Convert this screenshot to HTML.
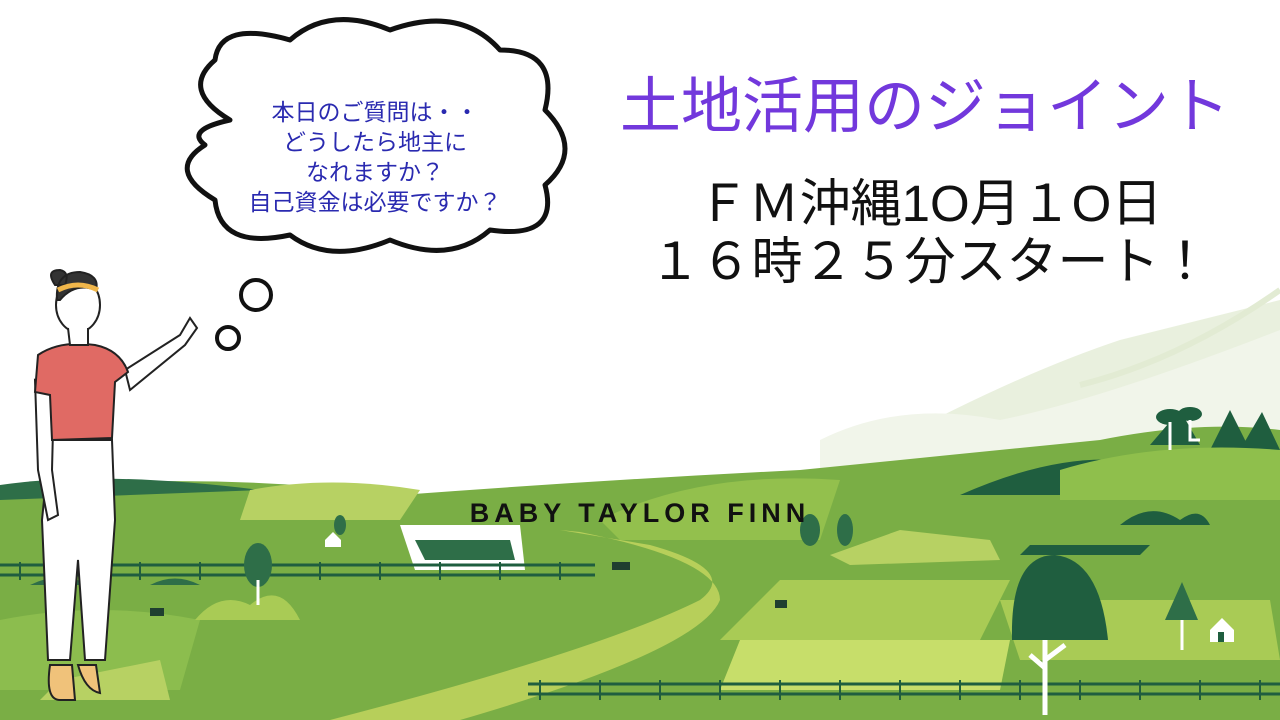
<!DOCTYPE html>
<html><head><meta charset="utf-8"><style>
body{margin:0;width:1280px;height:720px;overflow:hidden;background:#fff;position:relative;font-family:"Liberation Sans","Noto Sans CJK JP",sans-serif}
svg{position:absolute;left:0;top:0}
.t{position:absolute;white-space:nowrap}
</style></head><body>
<svg width="1280" height="720" viewBox="0 0 1280 720">
<path d="M840 470 Q1000 380 1120 340 Q1200 320 1280 300 L1280 720 L840 720Z" fill="#e9f0de"/>
<path d="M820 440 Q900 400 1000 420 Q1100 400 1280 330 L1280 720 L820 720Z" fill="#f1f5ea"/>
<path d="M1080 385 Q1180 360 1280 290" fill="none" stroke="#e2ebd3" stroke-width="6"/>
<path d="M0 490 Q200 470 400 495 Q600 480 800 470 Q950 455 1100 440 Q1200 420 1280 430 L1280 720 L0 720Z" fill="#7aae45"/>
<path d="M0 485 Q100 470 260 490 L0 500Z" fill="#2e6e48"/>
<path d="M960 495 Q1050 455 1120 460 L1090 495Z" fill="#1f5e3f"/>
<path d="M1150 445 L1180 410 L1200 445Z M1210 450 L1230 410 L1250 450Z M1240 450 L1262 412 L1280 450Z" fill="#1f5e3f"/>
<path d="M1060 470 Q1160 440 1280 450 L1280 500 L1060 500Z" fill="#8fbf4c"/>
<path d="M250 490 Q330 475 420 490 L400 520 L240 520Z" fill="#b7d163"/>
<path d="M600 520 Q700 470 840 480 L820 540 L620 540Z" fill="#93c04d"/>
<path d="M330 720 Q600 650 700 600 Q740 570 650 545 L560 530 L580 532 Q720 560 720 600 Q700 650 460 720Z" fill="#b7cf5a"/>
<path d="M720 640 L980 640 L1010 580 L780 580Z" fill="#a9cb55"/>
<path d="M720 690 L1000 690 L1010 640 L740 640Z" fill="#c7de6a"/>
<path d="M1000 600 L1270 600 L1280 660 L1020 660Z" fill="#a9cb55"/>
<path d="M0 620 Q100 600 200 620 L180 690 L0 690Z" fill="#8cbd4e"/>
<path d="M60 680 L160 660 L170 700 L40 700Z" fill="#b7d163"/>
<path d="M830 555 L900 530 L990 540 L1000 560 L850 565Z" fill="#b7d163"/>
<path d="M400 525 L520 525 L525 570 L415 570Z" fill="#fff"/>
<path d="M415 540 L510 540 L515 560 L425 560Z" fill="#2e6e48"/>
<path d="M1030 545 L1150 545 L1140 555 L1020 555Z" fill="#1f5e3f"/>
<path d="M1120 525 Q1150 500 1180 520 Q1200 505 1210 525Z" fill="#1f5e3f"/>
<path d="M30 585 Q60 570 90 585Z M150 585 Q175 572 200 585Z" fill="#2e6e48"/>
<path d="M195 620 Q220 590 250 605 Q280 580 300 620Z" fill="#a9cb55"/>
<g stroke="#1f5e3f" stroke-width="3" fill="none">
<path d="M0 565 H595 M0 575 H595"/>
<path d="M528 684 H1280 M528 694 H1280"/>
</g>
<g stroke="#1f5e3f" stroke-width="2">
<path d="M20 562V580 M80 562V580 M140 562V580 M200 562V580 M260 562V580 M320 562V580 M380 562V580 M440 562V580 M500 562V580 M560 562V580"/>
<path d="M540 680V700 M600 680V700 M660 680V700 M720 680V700 M780 680V700 M840 680V700 M900 680V700 M960 680V700 M1020 680V700 M1080 680V700 M1140 680V700 M1200 680V700 M1260 680V700"/>
</g>
<ellipse cx="258" cy="565" rx="14" ry="22" fill="#2e6e48"/><path d="M258 580V605" stroke="#fff" stroke-width="3"/>
<path d="M1012 640 Q1010 555 1055 555 Q1100 560 1108 640Z" fill="#1f5e3f"/>
<path d="M1045 640V715 M1045 668 L1030 655 M1045 660 L1065 645" stroke="#fff" stroke-width="5" fill="none"/>
<path d="M1165 620 L1182 582 L1198 620Z" fill="#2e6e48"/><path d="M1182 620V650" stroke="#fff" stroke-width="3"/>
<ellipse cx="1170" cy="417" rx="14" ry="8" fill="#1f5e3f"/><ellipse cx="1190" cy="414" rx="12" ry="7" fill="#1f5e3f"/>
<path d="M1170 422V450 M1190 420V440 H1200" stroke="#fff" stroke-width="3" fill="none"/>
<ellipse cx="810" cy="530" rx="10" ry="16" fill="#2e6e48"/><ellipse cx="845" cy="530" rx="8" ry="16" fill="#2e6e48"/>
<ellipse cx="340" cy="525" rx="6" ry="10" fill="#2e6e48"/>
<path d="M1210 630 L1222 618 L1234 630 V642 H1210Z" fill="#fff"/><rect x="1218" y="632" width="6" height="10" fill="#1f5e3f"/>
<path d="M325 540 L333 532 L341 540 V547 H325Z" fill="#fff"/>
<rect x="612" y="562" width="18" height="8" fill="#1f3f30"/><rect x="150" y="608" width="14" height="8" fill="#1f3f30"/><rect x="775" y="600" width="12" height="8" fill="#1f3f30"/>
<path d="M230 120 Q180 90 215 60 Q220 20 290 40 Q330 5 390 30 Q460 5 500 50 Q560 50 545 110 Q585 150 545 185 Q560 240 490 230 Q450 265 390 240 Q330 265 290 235 Q220 250 215 200 Q165 170 205 145 Q185 130 230 120Z" fill="#fff" stroke="#111" stroke-width="5" stroke-linejoin="round"/>
<circle cx="256" cy="295" r="15" fill="#fff" stroke="#111" stroke-width="4"/>
<circle cx="228" cy="338" r="11" fill="#fff" stroke="#111" stroke-width="4"/>
<g stroke="#222" stroke-width="2">
<path d="M50 440 L42 520 L48 660 L70 660 L78 560 L85 660 L105 660 L115 520 L112 440Z" fill="#fff"/>
<path d="M125 370 L180 335 L190 318 L197 328 L185 345 L130 390Z" fill="#fff"/>
<path d="M35 380 L38 470 L48 520 L58 515 L52 470 L54 390Z" fill="#fff"/>
<path d="M38 355 Q60 340 95 345 Q120 350 128 372 L115 382 L112 438 L52 440 L50 395 L35 392Z" fill="#e06a64"/>
<ellipse cx="78" cy="305" rx="22" ry="27" fill="#fff"/>
<path d="M68 328 L70 345 H88 L88 328" fill="#fff"/>
<path d="M57 300 Q55 272 80 272 Q100 275 96 290 Q75 282 60 300Z M55 285 Q45 270 60 270 Q70 272 65 285Z" fill="#333"/>
<path d="M50 665 Q45 700 60 700 H75 L72 665Z M78 665 Q85 690 100 693 L96 665Z" fill="#f0c27a"/>
</g>
<path d="M58 290 Q78 280 98 290" stroke="#f0b64a" stroke-width="5" fill="none"/>
</svg>
<div class="t" style="left:180px;width:390px;top:97px;text-align:center;font-size:23px;line-height:30px;color:#2a2ab0">本日のご質問は・・<br>どうしたら地主に<br>なれますか？<br>自己資金は必要ですか？</div>
<div class="t" style="left:595px;width:660px;top:56px;text-align:center;font-size:61px;color:#7238dc">土地活用のジョイント</div>
<div class="t" style="left:610px;width:640px;top:175px;text-align:center;font-size:51px;line-height:58px;color:#111">ＦＭ沖縄1O月１O日<br>１６時２５分スタート！</div>
<div class="t" style="left:420px;width:440px;top:498px;text-align:center;font-size:27px;font-weight:bold;letter-spacing:5px;color:#111">BABY TAYLOR FINN</div>
</body></html>
